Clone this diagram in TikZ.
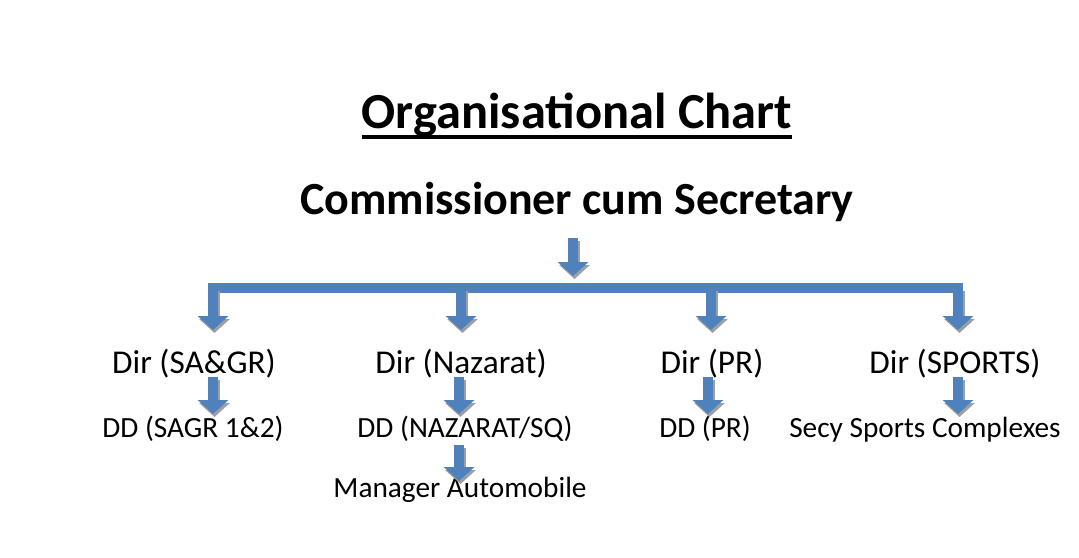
\documentclass[tikz,border=0pt]{standalone}
\usepackage{fontspec}
\setmainfont{Carlito}
\usetikzlibrary{arrows.meta}
\definecolor{orgblue}{HTML}{4F81BD}

\begin{document}
\begin{tikzpicture}[x=1pt, y=-1pt,
	every node/.style={inner sep=0pt, anchor=base},
	hdr/.style={font=\fontsize{50.5}{54}\selectfont\bfseries},
	boss/.style={font=\fontsize{46}{50}\selectfont\bfseries},
	dir/.style={font=\fontsize{33.3}{38}\selectfont},
	sub/.style={font=\fontsize{29.3}{33}\selectfont},
	blk/.style={orgblue, line width=10pt, -{Triangle[width=30pt, length=14pt]},
		preaction={draw=gray!75, line width=10pt, -{Triangle[width=30pt, length=14pt]},
			transform canvas={shift={(1.5pt,-3pt)}}}},
	bar/.style={orgblue, line width=9.5pt}]
	\useasboundingbox[fill=white] (0,0) rectangle (1079,557);
	% titles
	\node[hdr] (title) at (577,128) {Organisational Chart};
	\draw[line width=3.5pt] ([yshift=-9pt]title.base west) -- ([yshift=-9pt]title.base east);
	\node[boss] (cs) at (577,214) {Commissioner cum Secretary};
	% directors
	\node[dir] (d1) at (194,373) {Dir (SA\&GR)};
	\node[dir] (d2) at (461,373) {Dir (Nazarat)};
	\node[dir] (d3) at (712,373) {Dir (PR)};
	\node[dir] (d4) at (955,373) {Dir (SPORTS)};
	% deputies
	\node[sub] (dd1) at (193,437) {DD (SAGR 1\&2)};
	\node[sub] (dd2) at (465,437) {DD (NAZARAT/SQ)};
	\node[sub] (dd3) at (705,437) {DD (PR)};
	\node[sub] (dd4) at (925,437) {Secy Sports Complexes};
	\node[sub] (mgr) at (460,497) {Manager Automobile};
	% arrow ends
	\coordinate (cs-a) at (573,238);
	\coordinate (cs-b) at (573,276);
	\coordinate (bl) at (208,288);
	\coordinate (br) at (963,288);
	\foreach \i/\x in {1/213, 2/461, 3/711, 4/958} {
		\coordinate (up\i) at (\x,288);
		\coordinate (dn\i) at (\x,330);
	}
	\foreach \i/\x in {1/213, 2/459, 3/708, 4/958} {
		\coordinate (top\i) at (\x,377);
		\coordinate (bot\i) at (\x,414);
	}
	\coordinate (m-a) at (459,445);
	\coordinate (m-b) at (459,481);
	% arrows
	\draw[blk] (cs-a) -- (cs-b);
	\draw[bar] (bl) -- (br);
	\foreach \i in {1,...,4} {
		\draw[blk] (up\i) -- (dn\i);
		\draw[blk] (top\i) -- (bot\i);
	}
	\draw[blk] (m-a) -- (m-b);
\end{tikzpicture}
\end{document}
